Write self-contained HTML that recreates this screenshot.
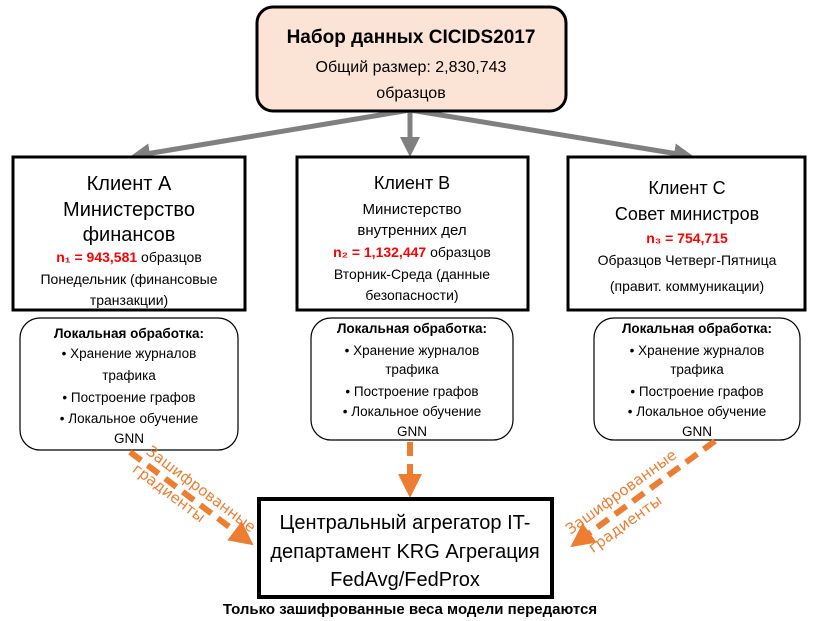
<!DOCTYPE html>
<html><head><meta charset="utf-8"><style>
body{margin:0;background:#fff}
svg{display:block}
text{font-family:"Liberation Sans",sans-serif;text-anchor:middle;fill:#000}
.r{fill:#ff0000;font-weight:bold}
.o{font-family:"DejaVu Sans",sans-serif;fill:#ED7D31;font-size:15px}
</style></head><body>
<svg width="820" height="621" viewBox="0 0 820 621" xmlns="http://www.w3.org/2000/svg">
<defs>
<marker id="ga" markerWidth="4" markerHeight="4" refX="2" refY="2" orient="auto" markerUnits="strokeWidth"><path d="M0,0 L4,2 L0,4 z" fill="#808080"/></marker>
<marker id="oa" markerWidth="4" markerHeight="4" refX="2" refY="2" orient="auto" markerUnits="strokeWidth"><path d="M0,0 L4,2 L0,4 z" fill="#ED7D31"/></marker>
</defs>
<g stroke="#808080" stroke-width="5" fill="none">
<line x1="410" y1="110" x2="140" y2="155" marker-end="url(#ga)"/>
<line x1="410" y1="110" x2="410" y2="147" marker-end="url(#ga)"/>
<line x1="410" y1="110" x2="684" y2="155" marker-end="url(#ga)"/>
</g>
<rect x="257" y="7" width="309" height="104" rx="16" fill="#FBE3D6" stroke="#000" stroke-width="3"/>
<text x="411" y="43" font-size="19" font-weight="bold">Набор данных CICIDS2017</text>
<text x="411" y="72" font-size="16">Общий размер: 2,830,743</text>
<text x="411" y="98" font-size="16">образцов</text>
<g fill="#fff" stroke="#000" stroke-width="3">
<rect x="13" y="157" width="232" height="153"/>
<rect x="297" y="157" width="231" height="153"/>
<rect x="568" y="157" width="237" height="153"/>
</g>
<text x="129" y="190" font-size="20">Клиент А</text>
<text x="129" y="216" font-size="20">Министерство</text>
<text x="129" y="241" font-size="20">финансов</text>
<text x="129" y="262" font-size="14"><tspan class="r">n₁ = 943,581</tspan> образцов</text>
<text x="129" y="284" font-size="14">Понедельник (финансовые</text>
<text x="129" y="305" font-size="14">транзакции)</text>

<text x="412" y="189" font-size="18">Клиент B</text>
<text x="412" y="214" font-size="15">Министерство</text>
<text x="412" y="235" font-size="15">внутренних дел</text>
<text x="412" y="257" font-size="14"><tspan class="r">n₂ = 1,132,447</tspan> образцов</text>
<text x="412" y="279" font-size="14">Вторник-Среда (данные</text>
<text x="412" y="300" font-size="14">безопасности)</text>

<text x="687" y="194" font-size="18">Клиент C</text>
<text x="687" y="220" font-size="18">Совет министров</text>
<text x="687" y="243" font-size="14" class="r">n₃ = 754,715</text>
<text x="687" y="265" font-size="14">Образцов Четверг-Пятница</text>
<text x="687" y="291" font-size="14">(правит. коммуникации)</text>

<g fill="#fff" stroke="#000" stroke-width="1.2">
<rect x="20" y="318" width="218" height="132" rx="20"/>
<rect x="311" y="318" width="202" height="122" rx="20"/>
<rect x="594" y="318" width="206" height="122" rx="20"/>
</g>
<g font-size="13.5">
<text x="129" y="338" font-weight="bold">Локальная обработка:</text>
<text x="129" y="358">• Хранение журналов</text>
<text x="129" y="380">трафика</text>
<text x="129" y="402">• Построение графов</text>
<text x="129" y="423">• Локальное обучение</text>
<text x="129" y="443">GNN</text>
<text x="412" y="333" font-weight="bold">Локальная обработка:</text>
<text x="412" y="355">• Хранение журналов</text>
<text x="412" y="374">трафика</text>
<text x="412" y="396">• Построение графов</text>
<text x="412" y="416">• Локальное обучение</text>
<text x="412" y="436">GNN</text>
<text x="697" y="333" font-weight="bold">Локальная обработка:</text>
<text x="697" y="355">• Хранение журналов</text>
<text x="697" y="374">трафика</text>
<text x="697" y="396">• Построение графов</text>
<text x="697" y="416">• Локальное обучение</text>
<text x="697" y="436">GNN</text>
</g>
<g stroke="#ED7D31" stroke-width="6" fill="none" stroke-dasharray="14,8">
<line x1="130" y1="452" x2="244" y2="538" marker-end="url(#oa)"/>
<line x1="410" y1="442" x2="410" y2="486" marker-end="url(#oa)"/>
<line x1="715" y1="441" x2="580" y2="540" marker-end="url(#oa)"/>
</g>
<text class="o" transform="translate(198,493) rotate(37)">Зашифрованные</text>
<text class="o" transform="translate(166,497) rotate(37)">градиенты</text>
<text class="o" transform="translate(624,496) rotate(-36)">Зашифрованные</text>
<text class="o" transform="translate(628,528) rotate(-36)">градиенты</text>
<rect x="259" y="499" width="293" height="98" fill="#fff" stroke="#000" stroke-width="4"/>
<text x="405" y="529" font-size="20">Центральный агрегатор IT-</text>
<text x="405" y="558" font-size="20">департамент KRG Агрегация</text>
<text x="405" y="586" font-size="20">FedAvg/FedProx</text>
<text x="410" y="614" font-size="15" font-weight="bold">Только зашифрованные веса модели передаются</text>
</svg>
</body></html>
